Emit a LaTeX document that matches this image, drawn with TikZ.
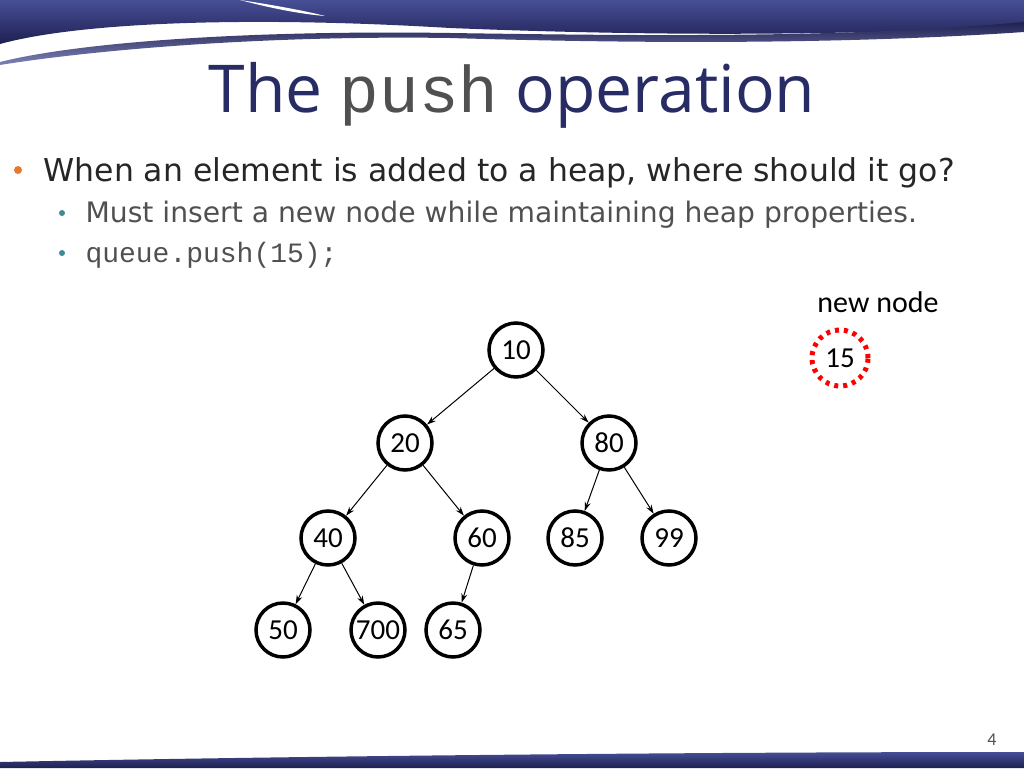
\documentclass[tikz,border=0pt]{standalone}
\usepackage{fontspec}
\setmainfont{DejaVu Sans}
\newfontfamily\calib{Carlito}
\newfontfamily\monof{Liberation Mono}
\newfontfamily\titlef{Open Sans}
\usetikzlibrary{arrows.meta}
\definecolor{navy}{RGB}{30,32,80}
\definecolor{navyl}{RGB}{70,78,150}
\definecolor{bul}{RGB}{230,120,50}
\definecolor{bul2}{RGB}{60,140,150}
\definecolor{gtxt}{RGB}{80,80,80}
\definecolor{ttl}{RGB}{40,44,100}
\begin{document}
\begin{tikzpicture}[x=1pt,y=-1pt,
 hn/.style={circle,draw,line width=3.5pt,minimum size=54pt,inner sep=0pt,font=\calib\fontsize{29}{30}\selectfont},
 ed/.style={-{Stealth[length=9pt,width=6pt]},line width=1pt}]
\useasboundingbox (0,0) rectangle (1024,768);
% banner
\shade[top color=navyl,bottom color=navy] (0,0) -- (1024,0) -- (1024,26) .. controls (800,38) and (600,34) .. (450,28) .. controls (250,16) and (80,22) .. (0,44) -- cycle;
\shade[top color=navy,bottom color=navyl!70] (0,62) .. controls (80,42) and (250,30) .. (450,33) .. controls (650,36) and (850,38) .. (1024,22) -- (1024,32) .. controls (850,44) and (650,44) .. (450,38) .. controls (250,35) and (80,52) .. (0,65) -- cycle;
\fill[white] (240,0) .. controls (280,6) and (310,12) .. (325,16) .. controls (300,14) and (270,8) .. (240,0) -- cycle;
\shade[top color=navyl,bottom color=navy] (0,762) .. controls (300,756) and (700,752) .. (1024,752) -- (1024,768) -- (0,768) -- cycle;
% title
\node[anchor=base,font=\titlef\fontsize{66}{68}\selectfont,text=ttl] (title) at (512,112) {The {\monof\color{gtxt}push} operation};
% bullets
\node[circle,fill=bul,inner sep=0pt,minimum size=8pt] (b1) at (18,170) {};
\node[anchor=base west,font=\fontsize{31.5}{33}\selectfont,text=black!85] (t1) at (40,181) {When an element is added to a heap, where should it go?};
\node[circle,fill=bul2,inner sep=0pt,minimum size=6pt] (b2) at (62,213) {};
\node[anchor=base west,font=\fontsize{28.2}{30}\selectfont,text=gtxt] (t2) at (82,222) {Must insert a new node while maintaining heap properties.};
\node[circle,fill=bul2,inner sep=0pt,minimum size=6pt] (b3) at (62,253) {};
\node[anchor=base west,font=\monof\fontsize{28}{30}\selectfont,text=gtxt] (t3) at (82,262) {queue.push(15);};
% heap
\node[hn] (n10) at (516,350) {10};
\node[hn] (n20) at (405,443) {20};
\node[hn] (n80) at (609,443) {80};
\node[hn] (n40) at (328,538) {40};
\node[hn] (n60) at (482,538) {60};
\node[hn] (n85) at (575,538) {85};
\node[hn] (n99) at (669,538) {99};
\node[hn] (n50) at (283,630) {50};
\node[hn] (n700) at (378,630) {700};
\node[hn] (n65) at (453,630) {65};
\draw[ed] (n10) -- (n20); \draw[ed] (n10) -- (n80);
\draw[ed] (n20) -- (n40); \draw[ed] (n20) -- (n60);
\draw[ed] (n80) -- (n85); \draw[ed] (n80) -- (n99);
\draw[ed] (n40) -- (n50); \draw[ed] (n40) -- (n700);
\draw[ed] (n60) -- (n65);
\node[font=\calib\fontsize{30}{32}\selectfont] (nl) at (878,302) {new node};
\node[hn,draw=red,line width=5pt,dash pattern=on 4pt off 5pt,minimum size=56pt] (n15) at (840,358) {15};
\node[font=\calib\fontsize{18}{20}\selectfont,text=gtxt] (pg) at (992,740) {4};
\end{tikzpicture}
\end{document}
